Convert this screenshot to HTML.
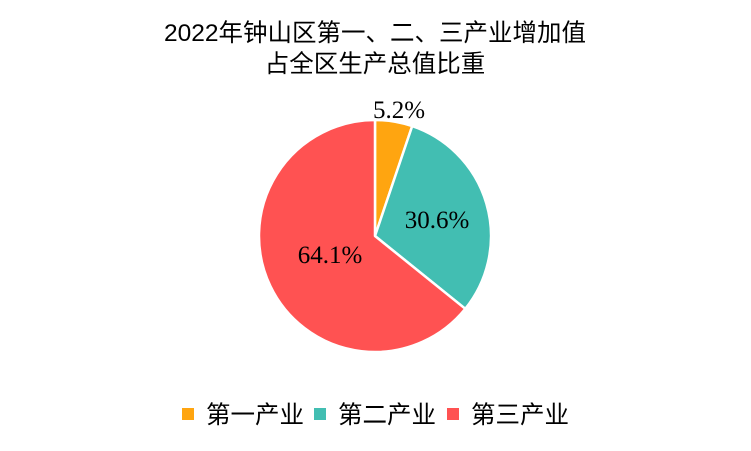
<!DOCTYPE html>
<html><head><meta charset="utf-8"><style>
body{margin:0;background:#fff;}
svg{display:block;}
.t{font-family:"Liberation Sans","Noto Sans CJK SC",sans-serif;font-size:24.5px;fill:#000;}
.l{font-family:"Liberation Serif","Noto Serif CJK SC",serif;font-size:25px;fill:#000;}
.g{font-family:"Liberation Sans","Noto Sans CJK SC",sans-serif;font-size:24.5px;fill:#000;}
</style></head><body>
<svg width="751" height="451" viewBox="0 0 751 451">
<text class="t" x="375" y="41" text-anchor="middle">2022年钟山区第一、二、三产业增加值</text>
<text class="t" x="375" y="72" text-anchor="middle">占全区生产总值比重</text>
<g stroke="#fff" stroke-width="2.5" stroke-linejoin="round">
<path d="M375,236 L375,120 A116,116 0 0 1 412.2,126.1 Z" fill="#FFA510"/>
<path d="M375,236 L412.2,126.1 A116,116 0 0 1 465.3,308.8 Z" fill="#42BEB2"/>
<path d="M375,236 L465.3,308.8 A116,116 0 1 1 375,120 Z" fill="#FF5252"/>
</g>
<text class="l" x="399" y="118" text-anchor="middle">5.2%</text>
<text class="l" x="437" y="228" text-anchor="middle">30.6%</text>
<text class="l" x="330" y="263" text-anchor="middle">64.1%</text>
<rect x="182" y="408" width="12" height="12" fill="#FFA510"/>
<text class="g" x="206" y="423">第一产业</text>
<rect x="314" y="408" width="12" height="12" fill="#42BEB2"/>
<text class="g" x="338" y="423">第二产业</text>
<rect x="447" y="408" width="12" height="12" fill="#FF5252"/>
<text class="g" x="471" y="423">第三产业</text>
</svg>
</body></html>
